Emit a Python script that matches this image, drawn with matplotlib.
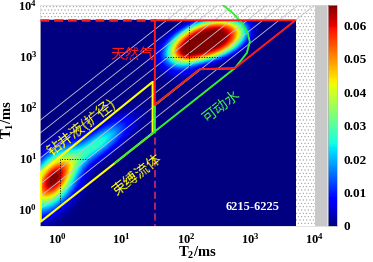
import numpy as np
import matplotlib.pyplot as plt
from matplotlib.patches import Rectangle

plt.rcParams['mathtext.fontset'] = 'custom'
plt.rcParams['mathtext.rm'] = 'Liberation Serif:bold'
plt.rcParams['mathtext.bf'] = 'Liberation Serif:bold'
plt.rcParams['mathtext.it'] = 'Liberation Serif:bold'
plt.rcParams['hatch.linewidth'] = 0.4

# axis ranges (ms)
t2_min, t2_max = 0.545, 15500
t1_min, t1_max = 0.46, 10000
grid_max = 5000      # inversion grid ends here, hatched beyond
hatch_max = 10000

# T1-T2 spectrum peaks (log10 space), shape = exponent on the radius
peak_t2 = [225, 80, 0.88, 4.5]
peak_t1 = [2100, 950, 3.8, 20]
peak_amp = [0.068, 0.022, 0.066, 0.026]
peak_sig_major = [0.5, 0.2, 0.4, 0.4]
peak_sig_minor = [0.3, 0.2, 0.2, 0.14]
peak_angle = [25, 0, 65, 45]
peak_shape = [4, 2, 2, 2]

# T1/T2 guide lines
guide_ratios = [1, 1.8, 3.2, 5.6, 10, 18, 32, 56, 100]

# fluid zones
mud_t2 = [0.56, 30.5, 30.5, 0.56, 0.56]
mud_t1 = [5.2, 310, 30.5, 0.56, 5.2]
gas_t2 = [33, 5000, 570, 165, 33, 33]
gas_t1 = [5000, 5000, 570, 550, 110, 5000]
water_t2 = [8, 570, 165, 33, 33]
water_t1 = [8, 570, 550, 110, 33]
arc_t2 = [375, 535, 738, 914, 982, 883, 687, 570]
arc_t1 = [10000, 6970, 4440, 2825, 1885, 1145, 762, 570]
cut_t2 = 33

# peak markers
mark1_t2, mark1_t1 = [1.1, 1.1, 3.0], [1.0, 9.5, 9.5]
mark2_t2, mark2_t1 = [47, 430], [950, 950]
mark3_t2, mark3_t1 = [110, 110], [560, 5000]

fig = plt.figure(figsize=(3.73, 2.62), dpi=100)
ax = fig.add_axes([40/373, 1-226/262, 287/373, 221/262])

u = np.linspace(np.log10(t2_min), np.log10(grid_max), 300)
v = np.linspace(np.log10(t1_min), np.log10(grid_max), 300)
U, V = np.meshgrid(u, v)
Z = np.zeros_like(U)
for i in range(len(peak_amp)):
    a = np.deg2rad(peak_angle[i])
    du = U - np.log10(peak_t2[i])
    dv = V - np.log10(peak_t1[i])
    p = du*np.cos(a) + dv*np.sin(a)
    q = -du*np.sin(a) + dv*np.cos(a)
    r2 = (p/peak_sig_major[i])**2 + (q/peak_sig_minor[i])**2
    Z += peak_amp[i]*np.exp(-0.5*r2**(peak_shape[i]/2))
Z = np.clip(Z, 0, 0.066)

ax.set_xscale('log')
ax.set_yscale('log')
ax.set_xlim(t2_min, t2_max)
ax.set_ylim(t1_min, t1_max)

ax.add_patch(Rectangle((t2_min, t1_min), hatch_max-t2_min, hatch_max-t1_min,
                       facecolor='white', edgecolor='#a0a0a0', hatch='.....', lw=0, zorder=0))
ax.add_patch(Rectangle((hatch_max, t1_min), t2_max-hatch_max, t1_max-t1_min,
                       facecolor='#c8c8c8', lw=0, zorder=0))

mesh = ax.pcolormesh(10**u, 10**v, Z, cmap='jet', vmin=0, vmax=0.066,
                     shading='gouraud', zorder=1)

xx = np.array([t2_min, hatch_max])
for r in guide_ratios:
    ax.plot(xx, xx*r, color='#c4c4d4', lw=0.6, zorder=2)

ax.plot(mark1_t2, mark1_t1, ':', color='black', lw=0.7, zorder=2)
ax.plot(mark2_t2, mark2_t1, ':', color='black', lw=0.7, zorder=2)
ax.plot(mark3_t2, mark3_t1, ':', color='black', lw=0.7, zorder=2)

ax.plot([t2_min, cut_t2], [grid_max, grid_max], color='#ff1a1a', lw=1.8,
        dashes=(3.5, 2), zorder=3)
ax.plot([cut_t2, cut_t2], [110, t1_min], color='#c0285a', lw=1.3,
        dashes=(4, 2), zorder=3)
ax.plot(mud_t2, mud_t1, color='#ffff00', lw=1.5, zorder=4)
ax.plot(water_t2, water_t1, color='#33ee33', lw=1.4, zorder=4)
ax.plot(arc_t2, arc_t1, color='#33ee33', lw=1.4, zorder=4)
ax.plot(gas_t2, gas_t1, color='#ff1a1a', lw=1.4, zorder=5)

cjk = ['Noto Sans CJK SC', 'DejaVu Sans']
ax.text(14.5, 1050, '天然气', color='#ff1a1a', fontsize=10.5, family=cjk,
        ha='center', va='center', zorder=6)
ax.text(2.4, 40, '钻井液(扩径)', color='#ffff00', fontsize=10.5, family=cjk,
        rotation=38, ha='center', va='center', zorder=6)
ax.text(17.4, 4.6, '束缚流体', color='#ffff00', fontsize=10.5, family=cjk,
        rotation=38, ha='center', va='center', zorder=6)
ax.text(350, 100, '可动水', color='#44ee44', fontsize=10.5, family=cjk,
        rotation=38, ha='center', va='center', zorder=6)
ax.text(1090, 1.1, '6215-6225', color='white', fontsize=9, family='Liberation Serif',
        fontweight='bold', ha='center', va='center', zorder=6)

ticks = [1, 10, 100, 1000, 10000]
labels = [r'$\mathbf{10^{%d}}$' % k for k in range(5)]
ax.set_xticks(ticks)
ax.set_xticklabels(labels, fontsize=9)
ax.set_yticks(ticks)
ax.set_yticklabels(labels, fontsize=9)
ax.minorticks_off()
ax.tick_params(length=0, pad=4)
ax.tick_params(axis='y', pad=2)
for s in ax.spines.values():
    s.set_color('#d8d8d8')
    s.set_linewidth(0.5)

ax.set_xlabel(r'$\mathbf{T_2/ms}$', fontsize=10.5)
ax.xaxis.set_label_coords(0.547, -0.085)
ax.set_ylabel(r'$\mathbf{T_1/ms}$', fontsize=10.5)
ax.yaxis.set_label_coords(-0.082, 0.48)

cax = fig.add_axes([328/373, 1-226/262, 9/373, 221/262])
cb = fig.colorbar(mesh, cax=cax, ticks=[0, 0.01, 0.02, 0.03, 0.04, 0.05, 0.06])
cb.ax.set_yticklabels(['0', '0.01', '0.02', '0.03', '0.04', '0.05', '0.06'],
                      fontsize=9.5, fontweight='bold', family='Liberation Serif')
cb.ax.tick_params(length=0, pad=5)
cb.outline.set_linewidth(0.5)
cb.outline.set_edgecolor('#b0b0b0')

fig.savefig('out.png', dpi=100)
